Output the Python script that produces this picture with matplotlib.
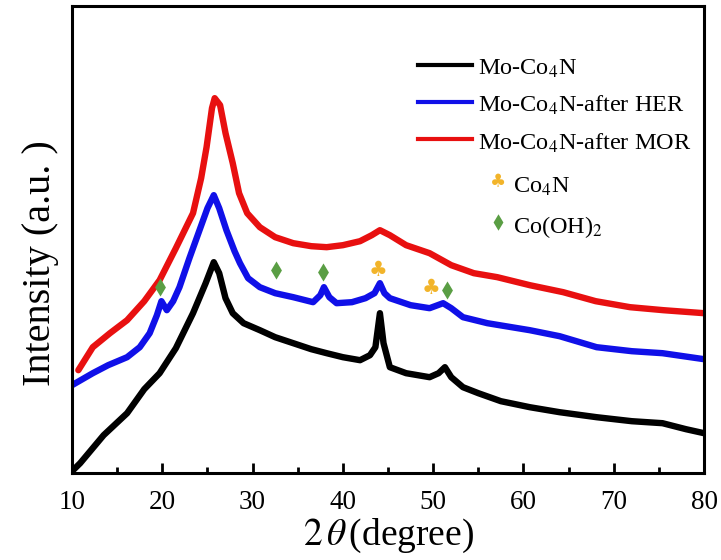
"""XRD patterns of Mo-Co4N before and after HER / MOR."""

import matplotlib

matplotlib.use("Agg")
import matplotlib.pyplot as plt
from matplotlib.ticker import MultipleLocator

plt.rcParams["font.family"] = ["Liberation Serif", "DejaVu Serif"]
plt.rcParams["mathtext.fontset"] = "stix"

# 2theta (degree) / intensity (a.u.) pairs for each pattern
pristine_2theta = [10.0, 10.9, 13.5, 16.1, 18.0, 19.7, 21.5, 23.4, 24.8, 25.7, 26.3, 27.0,
                   27.8, 29.0, 30.8, 32.5, 34.5, 36.5, 38.2, 40.0, 41.9, 43.0, 43.6, 44.1,
                   44.5, 45.2, 47.0, 49.6, 50.6, 51.3, 52.0, 53.3, 55.0, 57.5, 60.7, 64.0,
                   68.1, 72.0, 75.4, 78.0, 80.0]
pristine_int = [2, 10, 38, 60, 84, 100, 125, 160, 190, 211, 200, 175,
                160, 150, 143, 136, 130, 124, 120, 116, 113, 118, 126, 160,
                130, 106, 100, 96, 100, 106, 96, 86, 80, 72, 66, 61,
                56, 52, 50, 44, 40]

her_2theta = [10.0, 12.3, 14.0, 16.1, 17.5, 18.6, 19.4, 19.9, 20.5, 21.2, 21.9, 23.0,
              24.2, 25.0, 25.7, 26.3, 27.1, 28.0, 28.6, 29.5, 30.8, 32.5, 34.5, 36.7,
              37.5, 37.9, 38.5, 39.3, 41.0, 42.5, 43.5, 44.1, 44.6, 45.2, 47.5, 49.6,
              51.1, 52.0, 53.3, 56.0, 60.7, 64.0, 68.1, 72.0, 75.4, 80.0]
her_int = [88, 100, 108, 116, 126, 140, 158, 172, 163, 172, 186, 215,
           245, 265, 278, 265, 243, 222, 210, 195, 186, 180, 176, 171,
           178, 186, 176, 170, 171, 175, 180, 190, 180, 175, 168, 165,
           170, 165, 156, 150, 143, 137, 126, 122, 120, 114]

mor_2theta = [10.7, 12.3, 14.2, 16.1, 18.0, 19.7, 21.5, 23.4, 24.3, 24.9, 25.5, 25.8,
              26.4, 27.0, 27.8, 28.5, 29.4, 30.8, 32.5, 34.5, 36.5, 38.2, 40.0, 41.9,
              43.2, 44.1, 45.2, 47.0, 49.6, 52.0, 54.5, 57.1, 60.7, 64.4, 68.0, 71.8,
              75.5, 80.0]
mor_int = [103, 126, 140, 153, 172, 193, 225, 260, 295, 326, 365, 375,
           368, 340, 310, 280, 260, 246, 236, 230, 227, 226, 228, 232,
           238, 243, 238, 228, 220, 208, 200, 196, 188, 181, 172, 166,
           163, 160]

# phase reflections marked above the HER pattern
co4n_2theta = [43.9, 49.8]
co4n_int = [203, 185]
cooh_2theta = [19.7, 32.6, 37.8, 51.5]
cooh_int = [186, 203, 201, 183]

series_labels = ["Mo-Co$_4$N", "Mo-Co$_4$N-after HER", "Mo-Co$_4$N-after MOR"]
series_colors = ["black", "#1010e8", "#e81010"]
club_color = "#f2b42a"
diamond_color = "#5a9e44"

fig = plt.figure(figsize=(7.21, 5.60), dpi=100)
ax = fig.add_axes([0.0999, 0.155, 0.8766, 0.834])

for xs, ys, c in zip([pristine_2theta, her_2theta, mor_2theta],
                     [pristine_int, her_int, mor_int], series_colors):
    ax.plot(xs, ys, color=c, lw=4.6, solid_joinstyle="round", solid_capstyle="round")

ax.scatter(cooh_2theta, cooh_int, marker="d", s=85, color=diamond_color, zorder=5, linewidths=0)
for x, y in zip(co4n_2theta, co4n_int):
    ax.text(x, y, "\u2663", color=club_color, fontsize=15, family="DejaVu Sans",
            ha="center", va="center", zorder=5)

# legend drawn by hand in axes fraction
line_y = [0.874, 0.795, 0.715]
for y, c, lab in zip(line_y, series_colors, series_labels):
    ax.plot([0.548, 0.633], [y, y], color=c, lw=3, transform=ax.transAxes)
    ax.text(0.643, y - 0.008, lab, transform=ax.transAxes, fontsize=17.5, va="center", ha="left")
ax.text(0.674, 0.623, "\u2663", color=club_color, transform=ax.transAxes, fontsize=13,
        family="DejaVu Sans", ha="center", va="center")
ax.text(0.697, 0.613, "Co$_4$N", transform=ax.transAxes, fontsize=17.5, va="center", ha="left")
ax.scatter([0.674], [0.537], marker="d", s=70, color=diamond_color, linewidths=0,
           transform=ax.transAxes)
ax.text(0.697, 0.527, "Co(OH)$_2$", transform=ax.transAxes, fontsize=17.5, va="center", ha="left")

ax.set_xlim(10, 80)
ax.set_ylim(0, 467)
ax.xaxis.set_major_locator(MultipleLocator(10))
ax.xaxis.set_minor_locator(MultipleLocator(5))
ax.tick_params(axis="x", which="major", direction="in", length=7, width=2, labelsize=19.5, pad=12)
ax.tick_params(axis="x", which="minor", direction="in", length=4, width=2)
ax.set_yticks([])
for s in ax.spines.values():
    s.set_linewidth(2.2)

ax.text(0.5, -0.135, "$2\\,\\theta\\,$(degree)", transform=ax.transAxes, fontsize=27,
        ha="center", va="center")
ax.text(-0.0506, 0.45, "Intensity (a.u. )", transform=ax.transAxes, fontsize=29,
        rotation=90, ha="center", va="center")

fig.savefig("out.png", dpi=100)
